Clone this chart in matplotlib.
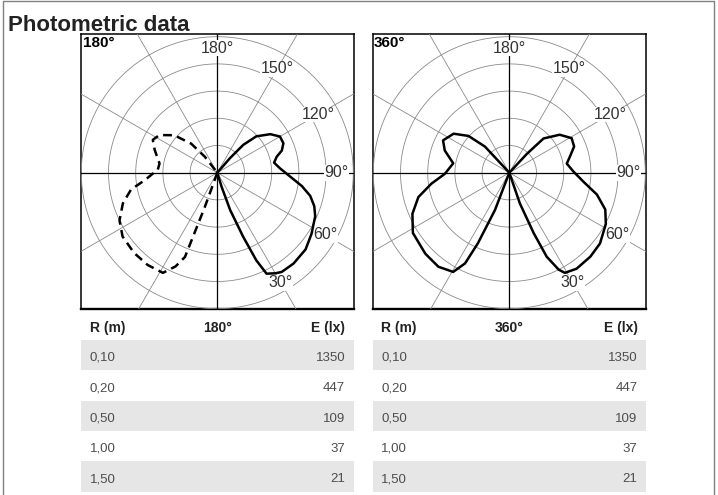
import numpy as np
import matplotlib.pyplot as plt
from matplotlib.lines import Line2D

plt.rcParams['font.family'] = ['Liberation Sans', 'DejaVu Sans']

# Polar readings: angle in degrees (0 = down, 90 = right, negative = left side),
# radius in ring units
ang_180_solid = [16, 17, 19, 22, 24, 26, 30, 33, 40, 49, 57, 66, 71, 76, 81, 87,
                 94, 100, 105, 109, 114, 120, 126, 133, 137, 139, 141]
r_180_solid = [0, 0.54, 1.45, 2.54, 3.53, 4.13, 4.27, 4.35, 4.36, 4.30, 4.13, 3.94,
               3.77, 3.52, 3.15, 2.68, 2.31, 2.12, 2.26, 2.51, 2.66, 2.66, 2.41,
               1.96, 1.40, 0.70, 0]

ang_180_dash = [-19, -20, -21, -24, -28.5, -37, -46, -56, -64, -72, -79, -84, -93,
                -99, -110, -117, -123, -131, -138, -142, -144]
r_180_dash = [0, 1.34, 3.32, 3.77, 4.19, 4.25, 4.25, 4.20, 4.00, 3.65, 3.23, 2.69,
              2.19, 2.15, 2.45, 2.66, 2.54, 2.10, 1.44, 0.75, 0]

ang_360_right = [16, 19, 22, 24, 27, 29, 35, 44, 52, 62, 69, 76, 83, 91, 99, 105,
                 112, 119, 127, 135, 137, 139]
r_360_right = [0, 1.2, 2.4, 3.38, 4.0, 4.21, 4.31, 4.29, 4.23, 4.02, 3.78, 3.32,
               2.75, 2.36, 2.14, 2.31, 2.57, 2.62, 2.32, 1.78, 0.94, 0]

ang_360_left = [-18, -21, -24, -26, -29.5, -37, -46, -58, -67, -75, -82, -89,
                -99.5, -109, -116, -125, -132, -137, -140]
r_360_left = [0, 1.47, 2.84, 3.71, 4.19, 4.33, 4.29, 4.18, 3.87, 3.46, 2.89, 2.37,
              2.09, 2.51, 2.71, 2.50, 2.02, 1.31, 0]

angle_labels = ['180°', '150°', '120°', '90°', '60°', '30°']
label_angles = [180, 150, 120, 90, 60, 30]
label_radii = [4.57, 4.42, 4.28, 4.39, 4.57, 4.67]

r_values = ['0,10', '0,20', '0,50', '1,00', '1,50']
lux_180 = [1350, 447, 109, 37, 21]
lux_360 = [1350, 447, 109, 37, 21]

W, H = 718, 495
UNIT = 27.2     # pixels per ring
RMAX = 7.3

fig = plt.figure(figsize=(W / 100, H / 100), dpi=100)


def rect(x0, y0, x1, y1):
    # pixel box (top-left origin) -> figure fraction
    return [x0 / W, 1 - y1 / H, (x1 - x0) / W, (y1 - y0) / H]


def polar_panel(cx, cy, box, corner, curves):
    bx = fig.add_axes(rect(*box))
    bx.set_xticks([])
    bx.set_yticks([])
    for s in bx.spines.values():
        s.set_linewidth(1.1)
    bx.spines['bottom'].set_linewidth(1.7)

    R = RMAX * UNIT
    ax = fig.add_axes(rect(cx - R, cy - R, cx + R, cy + R), projection='polar')
    ax.set_theta_zero_location('S')
    ax.set_theta_direction(1)
    ax.set_ylim(0, RMAX)
    ax.set_xticks([])
    ax.set_yticks([])
    ax.grid(False)
    ax.spines['polar'].set_visible(False)
    ax.patch.set_visible(False)

    th = np.linspace(0, 2 * np.pi, 721)
    for r in range(1, 6):
        ax.plot(th, np.full_like(th, r), color='#8a8a8a', lw=0.6, zorder=1)
    for a in range(0, 360, 30):
        t = np.deg2rad(a)
        if a % 90 == 0:
            ax.plot([t, t], [0, RMAX], color='black', lw=0.9, zorder=1.5)
        else:
            ax.plot([t, t], [0, RMAX], color='#8a8a8a', lw=0.6, zorder=1)

    for ang, rad, ls in curves:
        ax.plot(np.deg2rad(ang), rad, color='black', lw=1.8, ls=ls,
                solid_joinstyle='round', dash_joinstyle='round', zorder=4)

    for line in ax.lines:
        line.set_clip_path(bx.patch)

    for lab, a, r in zip(angle_labels, label_angles, label_radii):
        ax.text(np.deg2rad(a), r, lab, ha='center', va='center', fontsize=11.5,
                color='#333333', zorder=3,
                bbox=dict(facecolor='white', edgecolor='none', pad=0.4))

    ax.text(0.006, 0.994, corner, transform=bx.transAxes, ha='left', va='top',
            fontsize=11, fontweight='bold', color='black', zorder=5)


def table(x0, x1, head, lux):
    tx = fig.add_axes(rect(x0, 340, x1, 491.7))
    w = x1 - x0
    tx.set_xlim(0, w)
    tx.set_ylim(len(r_values), 0)
    tx.axis('off')
    hy = -0.27
    tx.text(8.5, hy, 'R (m)', ha='left', va='baseline', fontsize=10,
            fontweight='bold', color='#222222')
    tx.text(w / 2, hy, head, ha='center', va='baseline', fontsize=10,
            fontweight='bold', color='#222222')
    tx.text(w - 8.5, hy, 'E (lx)', ha='right', va='baseline', fontsize=10,
            fontweight='bold', color='#222222')
    for i, (rv, lv) in enumerate(zip(r_values, lux)):
        if i % 2 == 0:
            tx.axhspan(i, i + 1, color='#e6e6e6', lw=0)
        tx.text(8.5, i + 0.69, rv, ha='left', va='baseline', fontsize=9.5,
                color='#4d4d4d')
        tx.text(w - 8.5, i + 0.69, str(lv), ha='right', va='baseline',
                fontsize=9.5, color='#4d4d4d')


polar_panel(217.3, 172.7, (81, 34.3, 353.6, 309.3), '180°',
            [(ang_180_solid, r_180_solid, '-'),
             (ang_180_dash, r_180_dash, (0, (3.5, 2.2)))])
polar_panel(509.3, 172.7, (372.5, 34.3, 645.5, 309.3), '360°',
            [(ang_360_right, r_360_right, '-'),
             (ang_360_left, r_360_left, '-')])

table(81, 353.6, '180°', lux_180)
table(372.5, 646, '360°', lux_360)

fig.text(8 / W, 1 - 30.7 / H, 'Photometric data', fontsize=16,
         fontweight='bold', color='#222222', ha='left', va='baseline')

# outer page frame
fig.add_artist(Line2D([2.5 / W, 2.5 / W, 714 / W, 714 / W],
                      [0, 1 - 1.2 / H, 1 - 1.2 / H, 0],
                      transform=fig.transFigure, color='#808080', lw=1.0))

fig.savefig('out.png', dpi=100)
